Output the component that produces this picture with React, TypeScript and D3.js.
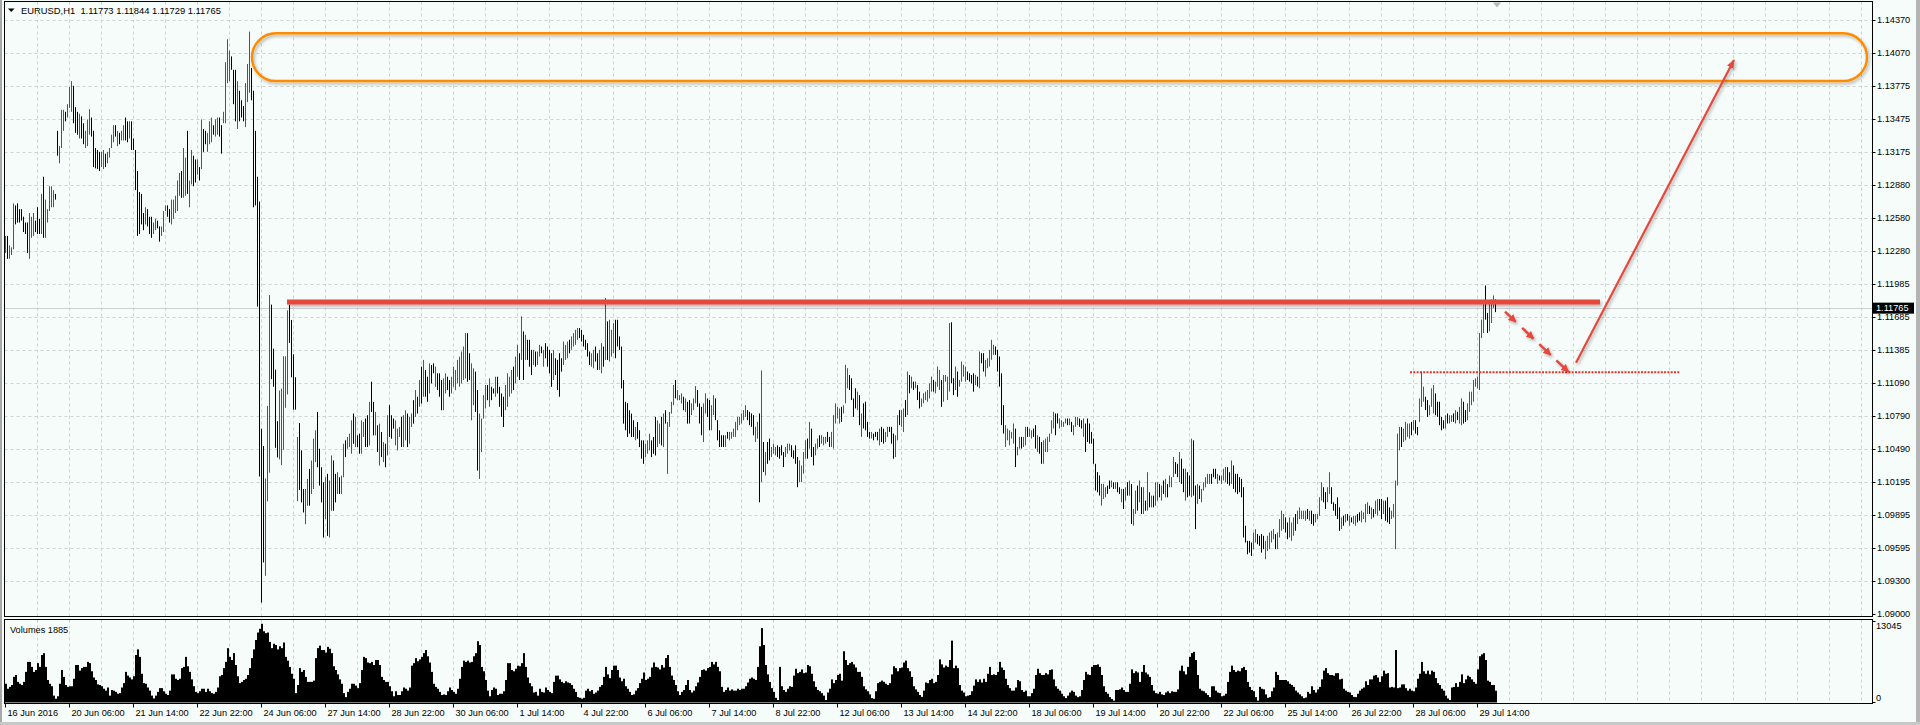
import React from "react";
import * as d3 from "d3";

// ---- chart text ----
const symbolTitle = "EURUSD,H1  1.11773 1.11844 1.11729 1.11765";
const volumeTitle = "Volumes 1885";
const lastPrice = 1.11765;
const volumeMax = 13045;

// one label every 32 bars, starting at bar 0
const timeLabels = [
  "16 Jun 2016", "20 Jun 06:00", "21 Jun 14:00", "22 Jun 22:00", "24 Jun 06:00",
  "27 Jun 14:00", "28 Jun 22:00", "30 Jun 06:00", "1 Jul 14:00", "4 Jul 22:00",
  "6 Jul 06:00", "7 Jul 14:00", "8 Jul 22:00", "12 Jul 06:00", "13 Jul 14:00",
  "14 Jul 22:00", "18 Jul 06:00", "19 Jul 14:00", "20 Jul 22:00", "22 Jul 06:00",
  "25 Jul 14:00", "26 Jul 22:00", "28 Jul 06:00", "29 Jul 14:00",
];

const priceTicks = [
  1.1437, 1.1407, 1.13775, 1.13475, 1.13175, 1.1288, 1.1258, 1.1228, 1.11985,
  1.11685, 1.11385, 1.1109, 1.1079, 1.1049, 1.10195, 1.09895, 1.09595, 1.093, 1.09,
];

// ---- H1 bars (high / low / direction) ----
const barHigh = [
  1.12418,1.12418,1.12332,1.12315,1.12712,1.12694,1.12712,1.12660,1.12660,1.12591,
  1.12539,1.12539,1.12625,1.12591,1.12625,1.12556,1.12677,1.12573,1.12798,1.12953,
  1.12746,1.12660,1.12867,1.12867,1.12832,1.12798,1.13368,1.13230,1.13558,1.13558,
  1.13540,1.13609,1.13765,1.13817,1.13775,1.13582,1.13540,1.13523,1.13499,1.13437,
  1.13368,1.13471,1.13564,1.13488,1.13368,1.13212,1.13195,1.13178,1.13178,1.13195,
  1.13161,1.13178,1.13212,1.13333,1.13419,1.13419,1.13368,1.13350,1.13368,1.13419,
  1.13488,1.13454,1.13454,1.13454,1.13299,1.13195,1.13005,1.12815,1.12798,1.12625,
  1.12677,1.12660,1.12591,1.12591,1.12539,1.12573,1.12556,1.12504,1.12504,1.12643,
  1.12694,1.12694,1.12660,1.12746,1.12746,1.12781,1.12919,1.12988,1.13005,1.13212,
  1.13126,1.13368,1.12919,1.13195,1.13143,1.13109,1.13109,1.13040,1.13471,1.13385,
  1.13368,1.13350,1.13454,1.13488,1.13419,1.13471,1.13488,1.13488,1.13419,1.13540,
  1.13989,1.14196,1.14093,1.14041,1.13920,1.13920,1.13817,1.13730,1.13644,1.13592,
  1.13799,1.13972,1.14265,1.13937,1.13730,1.13368,1.12953,1.12729,1.10674,1.10519,
  1.10225,1.10881,1.11883,1.11797,1.11399,1.11209,1.10743,1.11020,1.11037,1.11330,
  1.11330,1.11745,1.11797,1.11658,1.11348,1.11140,1.10600,
  1.10727,1.10479,1.10130,1.10130,1.10221,1.10312,1.10388,1.10585,1.10661,1.10827,
  1.10494,1.10327,1.10191,1.10236,1.10267,1.10206,1.10433,1.10388,1.10267,1.10282,
  1.10236,1.10251,1.10539,1.10570,1.10600,1.10630,1.10751,1.10812,1.10782,1.10615,
  1.10630,1.10751,1.10736,1.10767,1.10797,1.10918,
  1.11100,1.10918,1.10827,1.10706,1.10721,1.10645,1.10554,1.10539,1.10797,1.10888,
  1.10797,1.10767,1.10751,1.10676,1.10691,1.10782,1.10797,1.10842,1.10812,1.10782,
  1.10812,1.10933,1.11024,1.10964,1.11115,1.11236,1.11297,1.11206,1.11145,1.11266,
  1.11251,1.11266,1.11236,1.11176,1.11176,1.11115,1.11130,1.11176,1.11145,1.11115,
  1.11145,1.11236,1.11206,1.11297,1.11327,1.11373,1.11418,1.11539,1.11539,1.11357,
  1.11266,1.11221,1.11191,1.11024,1.10812,1.10767,1.10979,1.11070,1.11070,1.11130,
  1.11054,1.11039,1.11145,1.11145,1.11054,1.10994,1.10964,1.11070,1.11176,1.11145,
  1.11206,1.11236,1.11327,1.11433,1.11357,1.11691,1.11554,1.11524,1.11479,1.11479,
  1.11388,1.11388,1.11373,1.11373,1.11433,1.11418,1.11388,1.11448,1.11418,1.11388,
  1.11357,1.11388,1.11312,1.11297,1.11357,1.11312,1.11463,1.11433,1.11463,1.11479,
  1.11509,1.11539,1.11569,1.11585,1.11585,1.11569,1.11524,1.11479,1.11448,1.11373,
  1.11357,1.11388,1.11418,1.11357,1.11388,1.11448,1.11418,1.11857,1.11645,1.11660,
  1.11569,1.11630,1.11660,1.11660,1.11509,1.11418,1.11115,1.10918,1.10906,1.10842,
  1.10812,1.10751,1.10691,1.10736,1.10661,1.10570,1.10570,1.10539,1.10570,1.10630,
  1.10570,1.10600,1.10782,1.10751,1.10721,1.10782,1.10812,1.10842,1.10736,1.10827,
  1.10918,1.11070,1.11115,1.11024,1.10979,1.10994,1.10964,1.10949,1.10918,
  1.10934,1.10904,1.10949,1.11061,1.11025,1.10904,1.10873,1.10904,1.10995,1.10949,
  1.10934,1.10888,1.10979,1.10949,1.10752,1.10661,1.10616,1.10616,1.10616,1.10646,
  1.10646,1.10646,1.10676,1.10737,1.10782,1.10782,1.10813,1.10843,1.10888,1.10843,
  1.10828,1.10813,1.10798,1.10692,1.10737,1.10813,1.11201,1.10555,1.10464,1.10555,
  1.10586,1.10510,1.10540,1.10510,1.10525,1.10510,1.10525,1.10464,1.10510,1.10540,
  1.10540,1.10525,1.10479,1.10525,1.10419,1.10389,1.10343,1.10464,1.10570,1.10586,
  1.10737,1.10676,1.10510,1.10540,1.10586,1.10616,1.10616,1.10601,1.10601,1.10646,
  1.10601,1.10646,1.10798,1.10904,1.10873,1.10858,1.10873,1.10888,1.11252,1.11222,
  1.11161,1.11131,1.10949,1.11040,1.11010,1.10979,1.10813,1.10904,1.10919,1.10737,
  1.10646,1.10646,1.10631,1.10646,1.10646,1.10676,1.10692,1.10676,1.10646,1.10692,
  1.10692,1.10692,1.10631,1.10616,1.10798,1.10843,1.10843,1.10858,1.10934,1.11192,
  1.11161,1.11146,1.11101,1.11101,1.11070,1.11010,1.10949,1.10995,1.11010,1.11025,
  1.11085,1.11146,1.11116,1.11101,1.11237,1.11207,1.11116,1.11161,1.11161,1.11146,
  1.11631,1.11637,1.11131,1.11237,1.11192,1.11116,1.11282,1.11252,1.11237,1.11192,
  1.11176,1.11161,1.11176,1.11161,1.11146,1.11373,1.11358,1.11358,1.11297,1.11313,
  1.11388,1.11479,1.11434,1.11419,1.11388,1.11328,1.11176,1.10888,1.10707,1.10676,
  1.10661,1.10646,1.10722,1.10676,1.10510,1.10601,1.10601,1.10601,1.10692,1.10692,
  1.10676,1.10661,1.10676,1.10707,1.10616,1.10601,1.10555,1.10570,1.10586,1.10601,
  1.10631,1.10752,1.10828,1.10813,1.10813,1.10767,1.10752,1.10737,1.10767,1.10767,
  1.10767,1.10737,1.10707,1.10782,1.10782,1.10767,1.10752,1.10767,1.10722,1.10767,
  1.10722,1.10646,1.10586,1.10358,1.10283,1.10252,1.10177,1.10177,1.10146,1.10161,
  1.10207,1.10207,1.10191,1.10191,1.10191,1.10146,1.10131,1.10131,1.10146,1.10191,
  1.10207,1.10176,1.09949,1.10116,1.10161,1.10207,1.10146,1.10146,1.10025,1.10282,
  1.10101,1.10070,1.10070,1.10191,1.10191,1.10176,1.10161,1.10207,1.10222,1.10176,
  1.10252,1.10237,1.10419,1.10373,1.10358,1.10464,1.10404,1.10313,1.10313,1.10282,
  1.10252,1.10585,1.10570,1.10161,1.10176,1.10161,1.10131,1.10191,1.10237,1.10267,
  1.10267,1.10267,1.10313,1.10313,1.10267,1.10252,1.10252,1.10313,1.10328,1.10328,
  1.10282,1.10388,1.10343,1.10267,1.10267,1.10237,1.10222,1.10146,1.09798,1.09661,
  1.09661,1.09646,1.09737,1.09767,1.09722,1.09707,1.09722,1.09707,1.09661,1.09707,
  1.09737,1.09752,1.09767,1.09722,1.09737,1.09858,1.09934,1.09904,1.09873,1.09828,
  1.09873,1.09828,1.09873,1.09904,1.09934,1.09964,1.09934,1.09934,1.09934,1.09949,
  1.09934,1.09934,1.09904,1.09904,1.09904,1.10055,1.10191,1.10146,1.10101,1.10146,
  1.10282,1.10146,1.10010,1.09995,1.10055,1.09964,1.09873,1.09888,1.09904,1.09904,
  1.09888,1.09873,1.09888,1.09888,1.09904,1.09919,1.09934,1.09919,1.09995,1.10010,
  1.09979,1.09964,1.09949,1.10025,1.10040,1.10040,1.10040,1.10025,1.10025,1.10055,
  1.09964,1.09934,1.09995,1.10207,1.10631,1.10691,1.10691,1.10676,1.10737,1.10722,
  1.10722,1.10737,1.10752,1.10752,1.10691,1.10949,1.11191,1.11055,1.10964,1.10934,
  1.10888,1.11040,1.11070,1.10994,1.10919,1.10919,1.10782,1.10752,1.10797,1.10813,
  1.10797,1.10797,1.10813,1.10843,1.10828,1.10873,1.10949,1.10919,1.10843,1.10904,
  1.11010,1.11010,1.11116,1.11131,1.11146,1.11540,1.11661,1.11813,1.11970,1.11722,
  1.11828,1.11843,1.11879,1.11844,
];

const barLow = [
  1.12263,1.12211,1.12211,1.12245,1.12297,1.12522,1.12539,1.12539,1.12556,1.12453,
  1.12435,1.12263,1.12211,1.12401,1.12418,1.12453,1.12435,1.12435,1.12435,1.12401,
  1.12401,1.12539,1.12643,1.12677,1.12677,1.12746,1.13143,1.13074,1.13212,1.13368,
  1.13454,1.13488,1.13575,1.13540,1.13437,1.13350,1.13333,1.13299,1.13299,1.13247,
  1.13212,1.13230,1.13333,1.13316,1.13040,1.13029,1.13022,1.13005,1.13040,1.13022,
  1.13040,1.13074,1.13126,1.13212,1.13264,1.13316,1.13230,1.13247,1.13281,1.13281,
  1.13281,1.13264,1.13299,1.13195,1.13195,1.12832,1.12418,1.12435,1.12522,1.12470,
  1.12522,1.12504,1.12435,1.12401,1.12435,1.12470,1.12487,1.12366,1.12418,1.12453,
  1.12643,1.12591,1.12539,1.12522,1.12573,1.12625,1.12643,1.12781,1.12763,1.12763,
  1.12781,1.12798,1.12677,1.12884,1.12867,1.12901,1.12971,1.12919,1.13022,1.13178,
  1.13247,1.13178,1.13247,1.13264,1.13333,1.13316,1.13333,1.13316,1.13161,1.13437,
  1.13437,1.13799,1.13817,1.13920,1.13609,1.13454,1.13385,1.13454,1.13488,1.13454,
  1.13402,1.13627,1.13713,1.13644,1.12677,1.12694,1.11779,1.10243,1.09103,1.09466,
  1.09345,1.10018,1.10277,1.11123,1.11054,1.10502,1.10415,1.10398,1.10346,1.10484,
  1.10864,1.10985,1.11451,1.11140,1.10847,1.10847,1.10020,
  1.10121,1.10009,1.09918,1.09812,1.09979,1.09979,1.10085,1.10130,1.10373,1.10327,
  1.10161,1.10009,1.09691,1.09858,1.09706,1.09691,1.09933,1.09933,1.10009,1.10085,
  1.10085,1.10085,1.10236,1.10418,1.10494,1.10509,1.10449,1.10539,1.10509,1.10509,
  1.10449,1.10449,1.10600,1.10509,1.10509,1.10524,
  1.10827,1.10615,1.10615,1.10464,1.10342,1.10418,1.10373,1.10327,1.10433,1.10600,
  1.10585,1.10676,1.10524,1.10479,1.10600,1.10509,1.10509,1.10570,1.10509,1.10539,
  1.10691,1.10721,1.10782,1.10812,1.10873,1.10903,1.10964,1.10964,1.10918,1.10994,
  1.11085,1.11176,1.11054,1.11024,1.10964,1.10842,1.10842,1.10994,1.11024,1.10964,
  1.10994,1.11054,1.11024,1.11085,1.11054,1.11085,1.11115,1.11130,1.11100,1.11115,
  1.10751,1.10888,1.10827,1.10297,1.10221,1.10464,1.10767,1.10858,1.10933,1.10873,
  1.10933,1.10994,1.10964,1.10994,1.10873,1.10782,1.10691,1.10842,1.10873,1.10964,
  1.10994,1.11024,1.11085,1.11145,1.11115,1.11297,1.11115,1.11297,1.11297,1.11236,
  1.11160,1.11251,1.11236,1.11251,1.11327,1.11357,1.11236,1.11312,1.11236,1.11176,
  1.11054,1.11115,1.11160,1.11024,1.10964,1.11191,1.11251,1.11297,1.11312,1.11357,
  1.11388,1.11418,1.11433,1.11479,1.11494,1.11463,1.11418,1.11388,1.11327,1.11251,
  1.11236,1.11221,1.11282,1.11206,1.11206,1.11176,1.11236,1.11297,1.11297,1.11282,
  1.11327,1.11357,1.11312,1.11418,1.11388,1.11039,1.10721,1.10661,1.10600,1.10630,
  1.10600,1.10600,1.10570,1.10585,1.10509,1.10404,1.10358,1.10418,1.10449,1.10479,
  1.10418,1.10449,1.10433,1.10509,1.10539,1.10524,1.10509,1.10721,1.10267,1.10691,
  1.10812,1.10888,1.10949,1.10933,1.10933,1.10903,1.10842,1.10827,1.10721,
  1.10722,1.10798,1.10843,1.10904,1.10873,1.10722,1.10616,1.10555,1.10813,1.10782,
  1.10661,1.10661,1.10798,1.10752,1.10570,1.10510,1.10510,1.10510,1.10510,1.10585,
  1.10570,1.10585,1.10601,1.10601,1.10661,1.10707,1.10722,1.10752,1.10782,1.10752,
  1.10707,1.10692,1.10616,1.10555,1.10585,1.10010,1.10192,1.10283,1.10252,1.10358,
  1.10389,1.10419,1.10449,1.10434,1.10419,1.10404,1.10434,1.10328,1.10419,1.10449,
  1.10479,1.10419,1.10404,1.10358,1.10146,1.10192,1.10192,1.10268,1.10404,1.10404,
  1.10495,1.10419,1.10343,1.10434,1.10495,1.10510,1.10540,1.10525,1.10540,1.10555,
  1.10510,1.10510,1.10495,1.10722,1.10767,1.10722,1.10737,1.10813,1.10904,1.11040,
  1.11025,1.10934,1.10782,1.10858,1.10843,1.10707,1.10601,1.10677,1.10661,1.10601,
  1.10586,1.10586,1.10570,1.10601,1.10570,1.10525,1.10555,1.10540,1.10555,1.10601,
  1.10646,1.10540,1.10404,1.10419,1.10570,1.10707,1.10692,1.10646,1.10782,1.10798,
  1.10995,1.11040,1.11025,1.11040,1.10934,1.10858,1.10873,1.10904,1.10934,1.10919,
  1.10949,1.11010,1.11010,1.10995,1.11055,1.11025,1.10873,1.10919,1.11101,1.10934,
  1.11010,1.11085,1.10979,1.11025,1.10964,1.11055,1.11101,1.11146,1.11101,1.11116,
  1.11101,1.11085,1.11010,1.11070,1.11055,1.11040,1.11267,1.11192,1.11146,1.11222,
  1.11237,1.11298,1.11343,1.11343,1.11192,1.11055,1.10707,1.10631,1.10510,1.10570,
  1.10525,1.10586,1.10540,1.10328,1.10434,1.10495,1.10495,1.10510,1.10525,1.10601,
  1.10601,1.10586,1.10601,1.10495,1.10464,1.10449,1.10358,1.10358,1.10464,1.10464,
  1.10555,1.10631,1.10677,1.10616,1.10722,1.10677,1.10692,1.10692,1.10722,1.10707,
  1.10707,1.10646,1.10616,1.10692,1.10707,1.10692,1.10677,1.10601,1.10464,1.10555,
  1.10540,1.10540,1.10358,1.10116,1.10101,1.10071,1.09980,1.10040,1.10055,1.10086,
  1.10131,1.10146,1.10131,1.10131,1.10101,1.10085,1.10010,1.09949,1.10025,1.10070,
  1.10070,1.09813,1.09798,1.09904,1.09934,1.10010,1.09904,1.09904,1.09934,1.09934,
  1.09964,1.09964,1.09964,1.09979,1.10025,1.10055,1.10025,1.10085,1.10055,1.10055,
  1.10146,1.10146,1.10237,1.10267,1.10237,1.10191,1.10176,1.10101,1.10025,1.10055,
  1.10070,1.10055,1.10070,1.09767,1.09995,1.10040,1.10010,1.10116,1.10146,1.10176,
  1.10176,1.10176,1.10237,1.10222,1.10176,1.10207,1.10176,1.10207,1.10191,1.10176,
  1.10161,1.10176,1.10131,1.10101,1.10085,1.10101,1.10055,1.09692,1.09646,1.09540,
  1.09555,1.09525,1.09586,1.09646,1.09631,1.09616,1.09555,1.09586,1.09495,1.09570,
  1.09586,1.09646,1.09676,1.09586,1.09586,1.09692,1.09752,1.09767,1.09737,1.09676,
  1.09692,1.09661,1.09707,1.09752,1.09813,1.09858,1.09858,1.09858,1.09843,1.09858,
  1.09843,1.09813,1.09798,1.09828,1.09858,1.09888,1.10025,1.10010,1.09949,1.10010,
  1.10085,1.09995,1.09934,1.09888,1.09858,1.09752,1.09767,1.09798,1.09828,1.09843,
  1.09798,1.09828,1.09813,1.09798,1.09828,1.09843,1.09828,1.09858,1.09828,1.09904,
  1.09904,1.09858,1.09873,1.09904,1.09888,1.09934,1.09858,1.09904,1.09843,1.09828,
  1.09813,1.09858,1.09873,1.09586,1.10161,1.10479,1.10510,1.10555,1.10570,1.10601,
  1.10585,1.10616,1.10661,1.10631,1.10616,1.10737,1.10873,1.10919,1.10843,1.10782,
  1.10797,1.10873,1.10813,1.10797,1.10782,1.10707,1.10661,1.10676,1.10676,1.10722,
  1.10722,1.10737,1.10737,1.10722,1.10752,1.10722,1.10707,1.10722,1.10737,1.10752,
  1.10828,1.10888,1.10919,1.11055,1.11040,1.11025,1.11494,1.11540,1.11661,1.11540,
  1.11555,1.11631,1.11767,1.11729,
];

// u = bullish bar (crimson), d = bearish bar (black)
const barDir = [
  "uduuuddddd", "dduuudddud", "uuuuudduuu", "duuudddudd", "uuuddddduu",
  "duuuududuu", "dduddddddd", "uddduudduu", "udduuuuudu", "uduuddudud",
  "duuuduuddu", "uuuddduddd", "uuuddddddd", "uuudddduuu", "uuddddu",
  "ddduuduuud", "ddduduuddu", "duuduuudud", "duuddu",
  "ddudududud", "dduuuduudu", "ududududdu", "dduddduudd", "uuuuuuuudd",
  "uudduuuudu", "ddudddduuu", "uduudududd", "duduududdd", "dudddduuud",
  "uuuudddddd", "uudduududu", "uudddddddd", "ddudddduuu", "ddduududuu", "uuduuudud",
  "duuuddduud", "duudddddud", "uuuuuuuuud", "ddduududud", "duuudddduu",
  "udddduuuud", "udduuduuud", "duuuuuduuu", "ddddududdd", "dudddudduu",
  "ddduuduudu", "dududduuuu", "uuduuuduuu", "udduduuuud", "dddududduu",
  "uuuddddduu", "uuuduuduud", "uuddudduuu", "uuudduuuud", "uduuuddudd", "dddddduuud",
  "dududdudud", "uduudududu", "duduududud", "uuudduddud", "dudduduuuu",
  "uddduduuud", "dudddddddd", "dduudddduu", "uuuduuuudd", "uuuduuuuud",
  "udduuuuddu", "udddddudud", "uduudduuuu", "duduuddudd", "duuuuuduuu",
  "ududduuudd", "uuudddddud", "uududuuddu", "uuuuuuuudd", "uuud",
].join("");

const volumes = [
  3000,2200,2500,2800,4100,4400,3300,3000,2800,3300,
  4900,6500,6500,5700,4900,5200,6300,5700,7600,7900,
  5700,3600,3000,2600,1100,600,1000,3000,5200,4100,
  2800,2500,2600,2600,3800,6000,6000,5100,5500,5700,
  5700,6500,6300,5000,4000,3600,2900,2800,2600,2200,
  1900,2400,1100,2000,1900,1700,1400,1500,2400,3100,
  4900,4300,4000,3700,4200,7600,8500,7300,4600,3100,
  3000,2400,1900,1100,650,1100,1700,2300,2300,1800,
  1400,1200,1900,4500,4500,3800,3600,3800,5500,5700,
  7300,5800,4900,3700,2600,1700,1500,1800,2200,2200,
  1700,2200,1800,1500,1400,1700,2400,4200,4400,5500,
  6500,8700,7300,6800,7900,6000,4200,3100,3300,3600,
  3800,4400,5500,7100,8500,10000,11200,11800,12600,11400,
  11100,11200,9700,8700,9400,9200,8500,9000,8700,9600,
  7300,6700,5700,4600,3800,1500,2800,5500,4900,5200,
  4100,3300,3300,3300,3500,7100,8700,9100,8400,8400,
  8000,8900,8600,7900,5800,5200,4500,3700,3000,1500,
  860,1700,2200,3000,3000,2700,2300,3100,5200,7300,
  7100,6400,6300,6500,6000,6800,6800,6000,4100,3600,
  3300,3300,2600,1800,1000,1800,1200,1200,1800,2400,
  2200,1900,2400,5900,6300,7100,6600,6900,7300,7900,
  8400,7400,6400,4900,3000,2500,2200,1700,1200,1300,
  1200,1800,2400,2000,1700,1400,2200,3800,5700,6700,
  6500,6700,6400,6500,7400,7900,9800,9200,5700,5000,
  3600,1900,1000,2000,2400,2200,1200,
  1400,1400,1800,3600,6300,6300,5200,5000,5400,5900,
  5800,6300,7900,5700,4000,3100,2600,1600,1700,1100,
  2200,1700,1600,2400,2000,1700,1500,3300,4300,4300,
  3700,3300,3100,3400,3200,3100,2800,2200,1700,860,
  750,600,750,1900,2200,1800,2000,1400,1600,1900,
  2500,2800,4100,5700,4500,3900,5200,5900,5900,5200,
  4000,3400,3800,2600,2200,1700,1200,1300,1900,2300,
  3100,3800,4800,3600,3800,4100,5600,6400,5700,5600,
  5300,6000,5600,7100,7600,5700,4300,3600,2800,1800,
  1200,1700,2000,2800,3600,2000,1600,1900,2600,3200,
  4100,5200,5300,5100,5500,5700,6500,6100,6500,5700,
  5000,2500,1700,2000,2400,1900,2100,1900,1900,2200,
  2000,2200,2200,2600,3200,3800,4000,3800,3600,5700,
  9000,11900,9200,6000,4500,3300,2300,1700,750,400,
  5700,2600,2000,1700,2200,2600,2500,4300,5400,4700,
  4900,5300,4700,4800,6000,5800,4600,3400,2500,2000,
  1800,1500,1100,400,1600,2200,3700,3100,3600,4400,
  4600,3500,8200,6800,6000,6300,6500,6100,5600,4900,
  4900,4100,2600,2100,1800,1300,700,600,1800,3100,
  3300,3500,3300,3000,2800,3100,4500,5800,5500,5000,
  5500,5600,6400,6700,5500,5000,4100,2600,2100,1700,
  1200,900,1900,3200,3100,3600,3800,3100,3300,4400,
  6900,6100,5600,5900,5700,6800,9900,5500,5900,5500,
  2800,1900,1600,1000,1100,1200,1800,2700,3700,3300,
  3700,3200,3800,3300,4600,5700,4400,4500,4400,4900,
  6500,5600,5200,3800,2800,2300,1900,1900,2400,
  3600,3400,2000,1700,1900,1000,1000,1500,2200,4400,
  5400,4700,4400,4400,4700,4500,5200,5300,3700,2600,
  2200,1900,1400,1000,700,1100,1600,1900,1700,1100,
  860,1000,2000,3600,4900,4500,4400,5700,6000,6000,
  6100,5700,4400,2600,1700,1400,860,550,300,2000,
  2000,2100,2400,2000,1700,1700,3000,5300,4700,5000,
  4800,3300,4900,6000,4800,4500,4100,2800,1900,1500,
  1400,1700,1300,1200,1600,1800,1500,1800,1700,1700,
  2100,5100,5900,5000,4500,5700,7300,7900,8100,6800,
  4400,2200,1900,1800,1500,1200,860,2600,2600,1900,
  1600,1500,1000,1100,1400,3300,4900,5900,5200,4900,
  5100,5000,5500,5700,5200,3300,2500,2000,1800,860,
  300,2500,2200,2100,1300,750,860,1800,2400,4900,
  4400,3600,3600,3600,3600,3400,3000,2800,2500,1900,
  1600,1300,1000,700,800,1700,1400,2600,2000,1600,
  2100,2500,3700,5100,5500,4700,4400,4400,4300,4700,
  4700,3700,3800,2200,1900,1700,1600,1200,900,860,
  1400,1900,2200,2400,3400,2800,3700,3700,4300,4400,
  4000,3300,4200,5100,4600,4700,2400,2500,2400,8400,
  2300,2400,2900,2900,2300,1900,2200,1900,1800,2400,
  3800,4600,6500,5000,4600,5100,4500,5100,4900,3900,
  3100,2800,2200,1900,1100,650,400,2400,2500,3100,
  2500,3300,4500,3100,3700,4300,4100,3700,3300,3000,
  5300,7400,7700,7900,6800,3500,3300,2800,2800,1885,
];

// ---- hand-drawn objects (bar index, price) ----
const targetZone = { fromBar: 123.5, toBar: 931, top: 1.1425, bottom: 1.13818 };
const resistance = { fromBar: 141, toBar: 797.5, price: 1.1182 };
const breakLevel = { fromBar: 702.5, toBar: 837.5, price: 1.11185 };
const pullbackArrow = { fromBar: 750, fromPrice: 1.11733, toBar: 781.7, toPrice: 1.1119 };
const targetArrow = { fromBar: 785.5, fromPrice: 1.11272, toBar: 864.5, toPrice: 1.14008 };

const BG = "#f5fcf9";
const GRID = "#cdd3d0";
const UP = "#dc143c";
const DOWN = "#000000";
const MARK = "#e8473e";
const ZONE = "#ff8c00";
const FONT = "'Liberation Sans', Arial, sans-serif";

export default function App() {
  const W = 1920;
  const H = 725;
  const left = 4.5;
  const right = 1872.5;
  const top = 1.5;
  const mainBottom = 616.5;
  const volTop = 619.5;
  const volBottom = 703.5;

  const x = d3.scaleLinear().domain([0, 933.5]).range([5, 1872]);
  const y = d3.scaleLinear().domain([1.09, 1.1437]).range([614, 20]);
  const yv = d3.scaleLinear().domain([0, volumeMax]).range([702.5, 621]);

  const n = Math.min(barHigh.length, barLow.length, barDir.length, volumes.length);
  const bars = d3.range(n).map((i) => ({
    i,
    hi: barHigh[i],
    lo: barLow[i],
    up: barDir[i] === "u",
    vol: volumes[i],
  }));

  const gridBars = d3.range(16, 934, 16);
  const crisp = (v: number) => Math.round(v) + 0.5;

  const pa = {
    x1: x(pullbackArrow.fromBar), y1: y(pullbackArrow.fromPrice),
    x2: x(pullbackArrow.toBar), y2: y(pullbackArrow.toPrice),
  };
  // the pullback is drawn as a row of short arrows
  const dashParts = [[0, 0.17], [0.27, 0.45], [0.54, 0.72], [0.81, 1]];

  // chart-shift marker sits over the last bar
  const shiftX = x(n - 1) + 2;

  return (
    <svg
      width={W}
      height={H}
      viewBox={`0 0 ${W} ${H}`}
      style={{ position: "fixed", left: 0, top: 0, display: "block" }}
      fontFamily={FONT}
    >
      <defs>
        <filter id="shade" filterUnits="userSpaceOnUse" x="0" y="0" width={W} height={H}>
          <feDropShadow dx="1.5" dy="2" stdDeviation="1.4" floodColor="#000" floodOpacity="0.28" />
        </filter>
        <marker id="head" viewBox="0 0 10 10" refX="9" refY="5" markerWidth="9" markerHeight="9"
          markerUnits="userSpaceOnUse" orient="auto">
          <path d="M0,1 L10,5 L0,9 z" fill={MARK} />
        </marker>
        <marker id="headSmall" viewBox="0 0 10 10" refX="9" refY="5" markerWidth="8" markerHeight="8"
          markerUnits="userSpaceOnUse" orient="auto">
          <path d="M0,0 L10,5 L0,10 z" fill={MARK} />
        </marker>
      </defs>

      <rect x={0} y={0} width={W} height={H} fill={BG} />

      {/* grid */}
      <g stroke={GRID} strokeWidth={1} strokeDasharray="3,3">
        {priceTicks.slice(0, -1).map((t) => (
          <line key={t} x1={left} x2={right} y1={crisp(y(t))} y2={crisp(y(t))} />
        ))}
        {gridBars.map((b) => (
          <line key={b} x1={crisp(x(b))} x2={crisp(x(b))} y1={top} y2={mainBottom} />
        ))}
        {gridBars.map((b) => (
          <line key={"v" + b} x1={crisp(x(b))} x2={crisp(x(b))} y1={volTop} y2={volBottom} />
        ))}
      </g>

      {/* last price line */}
      <line x1={left} x2={right} y1={crisp(y(lastPrice))} y2={crisp(y(lastPrice))} stroke="#cfcfcf" />

      {/* price bars */}
      <g>
        {bars.map((b) => {
          const y1 = y(b.hi);
          const y2 = Math.max(y(b.lo), y1 + 1);
          return (
            <line key={b.i} x1={x(b.i) + 0.5} x2={x(b.i) + 0.5} y1={y1} y2={y2}
              stroke={b.up ? UP : DOWN} strokeWidth={1} />
          );
        })}
      </g>

      {/* target zone */}
      <rect
        x={x(targetZone.fromBar)}
        y={y(targetZone.top)}
        width={x(targetZone.toBar) - x(targetZone.fromBar)}
        height={y(targetZone.bottom) - y(targetZone.top)}
        rx={(y(targetZone.bottom) - y(targetZone.top)) / 2}
        fill="none"
        stroke={ZONE}
        strokeWidth={2.5}
        filter="url(#shade)"
      />

      {/* resistance */}
      <line x1={x(resistance.fromBar)} x2={x(resistance.toBar)}
        y1={y(resistance.price)} y2={y(resistance.price)}
        stroke={MARK} strokeWidth={5} filter="url(#shade)" />

      {/* breakout level */}
      <line x1={x(breakLevel.fromBar)} x2={x(breakLevel.toBar)}
        y1={y(breakLevel.price)} y2={y(breakLevel.price)}
        stroke="#e2332c" strokeWidth={2} strokeDasharray="2,1.3" />

      {/* pullback arrows */}
      <g filter="url(#shade)">
        {dashParts.map(([a, b], k) => (
          <line key={k}
            x1={pa.x1 + (pa.x2 - pa.x1) * a} y1={pa.y1 + (pa.y2 - pa.y1) * a}
            x2={pa.x1 + (pa.x2 - pa.x1) * b} y2={pa.y1 + (pa.y2 - pa.y1) * b}
            stroke={MARK} strokeWidth={2.5} markerEnd="url(#headSmall)" />
        ))}
      </g>

      {/* target arrow */}
      <line x1={x(targetArrow.fromBar)} y1={y(targetArrow.fromPrice)}
        x2={x(targetArrow.toBar)} y2={y(targetArrow.toPrice)}
        stroke={MARK} strokeWidth={2.2} markerEnd="url(#head)" filter="url(#shade)" />

      {/* volumes */}
      <g fill="#000">
        {bars.map((b) => (
          <rect key={b.i} x={x(b.i)} y={yv(b.vol)} width={2} height={yv(0) - yv(b.vol)} />
        ))}
      </g>

      {/* panel frames */}
      <g fill="none" stroke="#000" strokeWidth={1}>
        <rect x={left} y={top} width={right - left} height={mainBottom - top} />
        <rect x={left} y={volTop} width={right - left} height={volBottom - volTop} />
      </g>

      {/* chart shift marker */}
      <path d={`M${shiftX - 4},${top + 1} L${shiftX + 4},${top + 1} L${shiftX},${top + 6} z`} fill="#b8b8b8" />

      {/* price scale */}
      <g fontSize={9.2} fill="#000">
        {priceTicks.map((t) => (
          <g key={t}>
            <line x1={right} x2={right + 3} y1={crisp(y(t))} y2={crisp(y(t))} stroke="#000" />
            <text x={1877} y={y(t)} dy="0.35em">{t.toFixed(5)}</text>
          </g>
        ))}
        <rect x={1873} y={y(lastPrice) - 5.5} width={41} height={11} fill="#000" />
        <text x={1876} y={y(lastPrice)} dy="0.35em" fill="#fff">{lastPrice.toFixed(5)}</text>
      </g>

      {/* volume scale */}
      <g fontSize={9.2} fill="#000">
        <line x1={right} x2={right + 3} y1={crisp(yv(volumeMax))} y2={crisp(yv(volumeMax))} stroke="#000" />
        <text x={1876} y={yv(volumeMax) + 5} dy="0.35em">{volumeMax}</text>
        <line x1={right} x2={right + 3} y1={crisp(yv(0)) - 1} y2={crisp(yv(0)) - 1} stroke="#000" />
        <text x={1876} y={yv(0) - 5} dy="0.35em">0</text>
      </g>

      {/* time scale */}
      <g fontSize={9.2} fill="#000">
        {timeLabels.map((t, k) => {
          const xi = crisp(x(k * 32));
          return (
            <g key={t}>
              <line x1={xi} x2={xi} y1={volBottom} y2={volBottom + 4} stroke="#000" />
              <text x={xi + 2} y={716}>{t}</text>
            </g>
          );
        })}
      </g>

      {/* titles */}
      <path d="M8,8.5 L14.5,8.5 L11.25,12 z" fill="#000" />
      <text x={21} y={13.5} fontSize={9.4} fill="#000" style={{ whiteSpace: "pre" }}>{symbolTitle}</text>
      <text x={10} y={632.5} fontSize={9.2} fill="#000">{volumeTitle}</text>

      {/* window edges */}
      <rect x={0} y={0} width={2} height={H} fill="#a8a8a8" />
      <rect x={W - 4} y={0} width={4} height={H} fill="#b4b4b4" />
      <rect x={0} y={H - 3} width={W} height={3} fill="#c8c8c8" />
    </svg>
  );
}
